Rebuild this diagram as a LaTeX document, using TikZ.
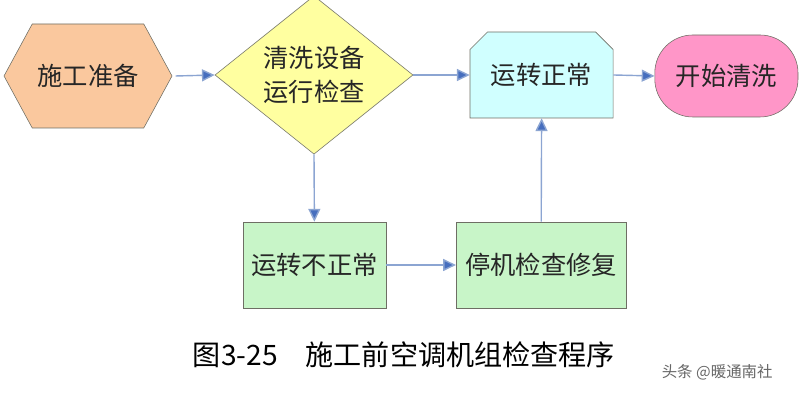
\documentclass[tikz,border=0pt]{standalone}
\usepackage{tikz}
\usetikzlibrary{shapes.geometric, shapes.misc, shapes.symbols, arrows.meta, positioning}
\usepackage{xcolor}
\usepackage{fontspec}
\newfontfamily\cjk{Noto Sans CJK SC}
\definecolor{hexorange}{RGB}{250, 200, 158}
\definecolor{diayellow}{RGB}{255, 255, 160}
\definecolor{okcyan}{RGB}{208, 255, 255}
\definecolor{startpink}{RGB}{255, 150, 200}
\definecolor{badgreen}{RGB}{200, 245, 200}
\definecolor{edgegray}{RGB}{110, 110, 100}
\definecolor{linkblue}{RGB}{140, 165, 210}
\definecolor{tipblue}{RGB}{70, 110, 190}
\tikzset{
  boxtext/.style   = {font=\cjk\fontsize{18}{24}\selectfont, align=center, text=black!85, inner sep=0pt},
  prep/.style      = {boxtext, shape=signal, signal to=west and east, signal pointer angle=123, draw=edgegray, fill=hexorange, minimum width=4.2cm, minimum height=2.6cm},
  check/.style     = {boxtext, diamond, draw=edgegray, fill=diayellow, minimum width=4.95cm, minimum height=3.55cm},
  okbox/.style     = {boxtext, chamfered rectangle, chamfered rectangle corners={north west, north east}, chamfered rectangle xsep=0.22cm, chamfered rectangle ysep=0.22cm, draw=edgegray, fill=okcyan, minimum width=3.58cm, minimum height=2.15cm},
  startbox/.style  = {boxtext, rectangle, rounded corners=0.95cm, draw=edgegray, fill=startpink, minimum width=3.58cm, minimum height=2.05cm},
  badbox/.style    = {boxtext, rectangle, draw=edgegray, fill=badgreen, minimum height=2.15cm},
  link/.style      = {-{Triangle[length=0.32cm, width=0.3cm, fill=tipblue]}, linkblue, line width=1pt},
}
\begin{document}
\begin{tikzpicture}

\useasboundingbox (0,0) rectangle (20,10);

% 上排流程
\node[prep]     (prep)   at (2.2,8.1)    {施工准备};
\node[check]    (check)  at (7.85,8.125) {清洗设备\\运行检查};
\node[okbox]    (ok)     at (13.54,8.125) {运转正常};
\node[startbox] (start)  at (18.16,8.1)  {开始清洗};

% 下排流程
\node[badbox, minimum width=3.58cm] (bad)    at (7.86,3.375)  {运转不正常};
\node[badbox, minimum width=4.25cm] (repair) at (13.53,3.375) {停机检查修复};

% 连线
\draw[link] (prep.east) ++(0.08,0) -- (check.west);
\draw[link] (check.east) -- (ok.west);
\draw[link] (ok.east) -- (start.west);
\draw[link] (check.south) -- (bad.north);
\draw[link] (bad.east) -- (repair.west);
\draw[link] (repair.north) -- (ok.south);

% 图题
\node[font=\cjk\fontsize{20}{24}\selectfont] (title) at (10.1,1.125) {图3-25\quad 施工前空调机组检查程序};
\node[font=\cjk\fontsize{11}{13}\selectfont, text=black!60] (mark) at (17.93,0.7) {头条 @暖通南社};

\end{tikzpicture}
\end{document}
